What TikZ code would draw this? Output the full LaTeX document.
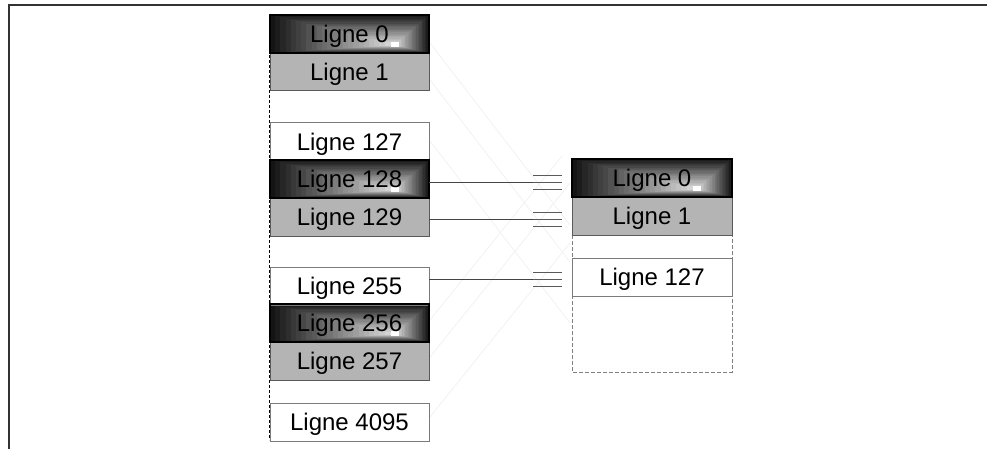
\documentclass[tikz,border=0pt]{standalone}
\usepackage{fontspec}
\setmainfont{Liberation Sans}
\usetikzlibrary{backgrounds,calc}
\definecolor{cellgray}{HTML}{B4B4B4}
\definecolor{framegray}{HTML}{333333}
\definecolor{linkgray}{HTML}{454545}
\definecolor{edgegray}{HTML}{5A5A5A}
\definecolor{faintgray}{HTML}{F0F0F0}
\tikzset{
  cell/.style={anchor=north west, minimum width=159pt, minimum height=38pt, inner sep=0pt, outer sep=0pt, font=\fontsize{24}{28}\selectfont, text height=17pt, text depth=0pt, line width=1pt},
  darkcell/.style={cell, draw=black, line width=1.6pt},
  graycell/.style={cell, fill=cellgray, draw=edgegray},
  whitecell/.style={cell, fill=white, draw=edgegray!80},
  link/.style={draw=linkgray, line width=0.9pt},
  tickline/.style={draw=edgegray, line width=0.9pt},
  hatchline/.style={draw=faintgray, line width=0.7pt},
  frameline/.style={draw=framegray, line width=1.3pt},
  leftdash/.style={draw=black, line width=0.8pt, dash pattern=on 3pt off 2pt},
  rightdash/.style={draw=gray, line width=0.9pt, dash pattern=on 4pt off 2pt},
}
\newcommand\shadecell[1]{%
  \coordinate (#1c) at ($(#1.south west)+(125pt,8pt)$);
  \foreach \i in {0,...,23}{%
    \pgfmathsetmacro\shadeval{int(round(8+\i*3.4))}%
    \pgfmathsetmacro\shadefrac{\i/24}%
    \fill[white!\shadeval!black] ($(#1.south west)!\shadefrac!(#1c)$) rectangle ($(#1.north east)!\shadefrac!(#1c)$);
  }
  \fill[white] ($(#1c)+(-4pt,-2pt)$) rectangle ($(#1c)+(4pt,3pt)$);
}
\newcommand\ticks[1]{%
  \foreach \d in {-7,0,7}{%
    \draw[tickline] ($(#1)+(-29pt,\d pt)$) -- ($(#1)+(0pt,\d pt)$);
  }
}
\begin{document}
\begin{tikzpicture}[x=1pt,y=-1pt]
\useasboundingbox (0,0) rectangle (987,449);
% frame
\coordinate (f1) at (9,449);
\coordinate (f2) at (9,5);
\coordinate (f3) at (987,5);
\draw[frameline] (f1) -- (f2) -- (f3);
% cells, left column
\node[graycell] (L1) at (270,53) {Ligne 1};
\node[whitecell] (L127) at (270,123) {Ligne 127};
\node[graycell] (L129) at (270,198) {Ligne 129};
\node[whitecell] (L255) at (270,267) {Ligne 255};
\node[graycell] (L257) at (270,342) {Ligne 257};
\node[whitecell] (L4095) at (270,403) {Ligne 4095};
\node[darkcell] (L0) at (270,15) {Ligne 0};
\node[darkcell] (L128) at (270,160) {Ligne 128};
\node[darkcell] (L256) at (270,304) {Ligne 256};
% right column
\node[graycell, minimum width=160pt] (R1) at (572,197) {Ligne 1};
\node[whitecell, minimum width=160pt] (R127) at (572,258) {Ligne 127};
\node[darkcell, minimum width=160pt] (R0) at (572,159) {Ligne 0};
\begin{scope}[on background layer]
  % faint hatch lines
  \draw[hatchline] (430,43) -- (570,225);
  \draw[hatchline] (430,80) -- (570,262);
  \draw[hatchline] (430,141) -- (570,323);
  \draw[hatchline] (430,320) -- (562,156);
  \draw[hatchline] (430,357) -- (570,183);
  \draw[hatchline] (430,417) -- (570,243);
  % left dashed edge
  \coordinate (lt) at (269,15);
  \coordinate (lb) at (269,440);
  \draw[leftdash] (lt) -- (lb);
  % right dashed outline
  \coordinate (rbot) at (0,372);
  \draw[rightdash] (R1.south west) -- (R1.south west |- rbot) -- (R1.south east |- rbot) -- (R1.south east);
  \shadecell{L0}
  \shadecell{L128}
  \shadecell{L256}
  \shadecell{R0}
\end{scope}
% connectors
\coordinate (e0) at (562,182);
\coordinate (e1) at (562,219.5);
\coordinate (e2) at (562,279);
\draw[link] (L128.east |- e0) -- (e0);
\draw[link] (L129.east |- e1) -- (e1);
\draw[link] (L255.east |- e2) -- (e2);
\ticks{e0}
\ticks{e1}
\ticks{e2}
\end{tikzpicture}
\end{document}
